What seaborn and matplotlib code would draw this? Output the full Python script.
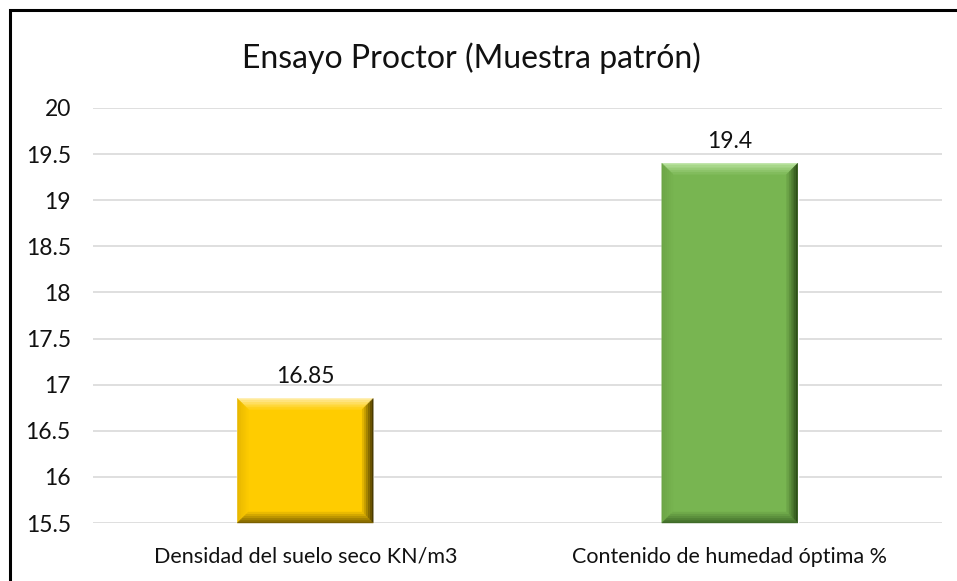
import numpy as np
import pandas as pd
import seaborn as sns
import matplotlib.pyplot as plt
from matplotlib.colors import to_rgb
from matplotlib.patches import Polygon, Rectangle
from matplotlib.transforms import Bbox

categories = ['Densidad del suelo seco KN/m3', 'Contenido de humedad óptima %']
values = [16.85, 19.4]
labels = ['16.85', '19.4']
colors = ['#FFCC00', '#78B551']
# bevel edge shades: top, left, right, bottom
bevels = [
    ['#FFEA99', '#E8B800', '#4A3A00', '#7A6000'],
    ['#B5E09A', '#6CA546', '#2E5019', '#3F6B28'],
]
yticks = [15.5, 16, 16.5, 17, 17.5, 18, 18.5, 19, 19.5, 20]

sns.set_theme(style='white')
plt.rcParams['font.family'] = ['Lato', 'DejaVu Sans']

df = pd.DataFrame({'cat': categories, 'val': values})

fig = plt.figure(figsize=(9.57, 5.81), dpi=100)
ax = fig.add_axes([93 / 957, 1 - 523 / 581, (942 - 93) / 957, (523 - 108) / 581])

sns.barplot(data=df, x='cat', y='val', hue='cat', palette=colors, legend=False,
            width=0.32, ax=ax, zorder=3, saturation=1)

ax.set_ylim(15.5, 20)
ax.set_yticks(yticks)
ax.set_yticklabels([f'{t:g}' for t in yticks], fontsize=16.5, color='#111111')
ax.grid(axis='y', color='#D9D9D9', linewidth=1.2, zorder=0)
ax.grid(axis='x', visible=False)
for s in ax.spines.values():
    s.set_visible(False)
ax.tick_params(axis='y', length=0, pad=16)
ax.tick_params(axis='x', length=0, pad=17, labelsize=15.5, labelcolor='#111111')
ax.set_xlabel('')
ax.set_ylabel('')


def mix(c1, c2, t):
    a, b = np.array(to_rgb(c1)), np.array(to_rgb(c2))
    return tuple(a + (b - a) * t)


fig.canvas.draw()
inv = fig.transFigure.inverted()
bw = 11  # bevel size in px
steps = 6
for patch, bev, base, lab in zip(ax.patches, bevels, colors, labels):
    bb = Bbox.intersection(patch.get_window_extent(), ax.bbox)
    X0, Y0, X1, Y1 = bb.x0, bb.y0, bb.x1, bb.y1
    for k in range(steps):
        a = bw * k / steps
        b = bw * (k + 1) / steps
        t = k / steps
        quads = [
            [(X0 + a, Y1 - a), (X1 - a, Y1 - a), (X1 - b, Y1 - b), (X0 + b, Y1 - b)],  # top
            [(X0 + a, Y0 + a), (X0 + a, Y1 - a), (X0 + b, Y1 - b), (X0 + b, Y0 + b)],  # left
            [(X1 - a, Y0 + a), (X1 - a, Y1 - a), (X1 - b, Y1 - b), (X1 - b, Y0 + b)],  # right
            [(X0 + a, Y0 + a), (X1 - a, Y0 + a), (X1 - b, Y0 + b), (X0 + b, Y0 + b)],  # bottom
        ]
        for q, c in zip(quads, bev):
            pts = inv.transform(np.array(q))
            fig.patches.append(Polygon(pts, closed=True, facecolor=mix(c, base, t),
                                       edgecolor=mix(c, base, t), linewidth=0.3,
                                       transform=fig.transFigure, zorder=4))
    ax.annotate(lab, (patch.get_x() + patch.get_width() / 2, patch.get_height()),
                xytext=(0, 8), textcoords='offset points', ha='center', va='bottom',
                fontsize=16.5, color='#111111')

fig.suptitle('Ensayo Proctor (Muestra patrón)', x=471 / 957, y=1 - 58 / 581,
             va='center', fontsize=23, color='#111111')

# chart frame
fig.patches.append(Rectangle((9.5 / 957, -0.1), 1.2, 1 - 9.5 / 581 + 0.1, fill=False,
                             edgecolor='black', linewidth=2.2, transform=fig.transFigure))

fig.savefig('out.png', dpi=100)
